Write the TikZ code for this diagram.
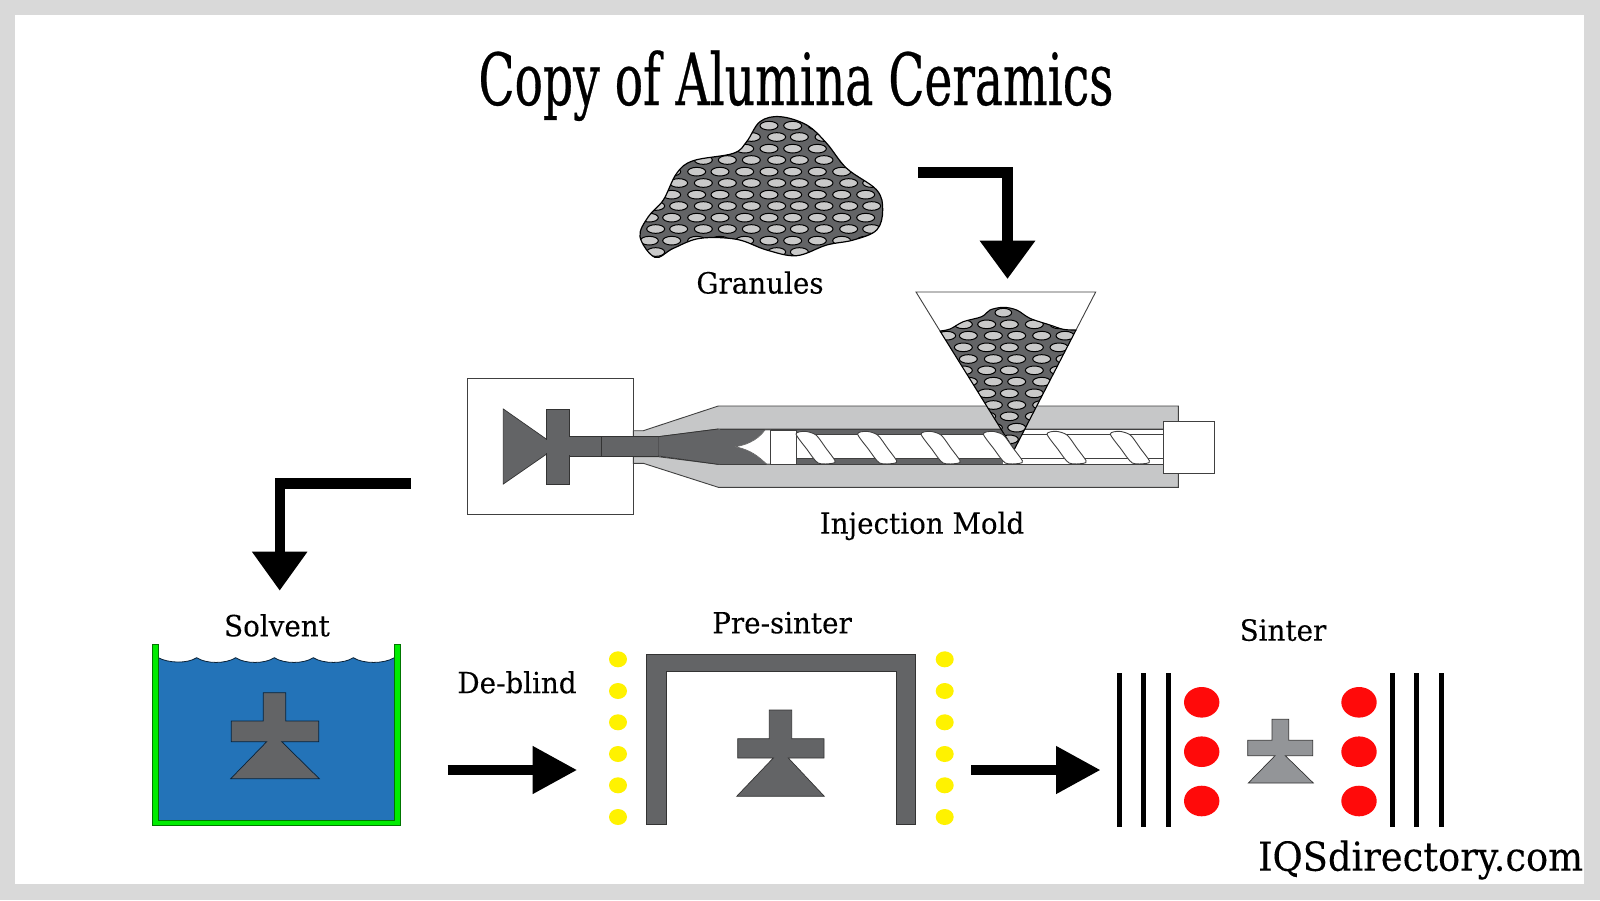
\documentclass[tikz,border=0pt]{standalone}
\usepackage{fontspec}
\setmainfont{DejaVu Serif}
\newfontfamily\titlefont[FakeStretch=0.655,FakeBold=0.4]{DejaVu Serif}
\newfontfamily\labelfont[FakeStretch=0.95,FakeBold=0.15]{DejaVu Serif}
\newfontfamily\brandfont[FakeStretch=0.92,FakeBold=0.15]{DejaVu Serif}
\usetikzlibrary{arrows.meta}
\definecolor{framegray}{HTML}{D9D9D9}
\definecolor{dark}{HTML}{636466}
\definecolor{barrel}{HTML}{C6C7C8}
\definecolor{pale}{HTML}{C9C9C9}
\definecolor{sintered}{HTML}{939598}
\definecolor{water}{HTML}{2373B8}
\definecolor{tub}{HTML}{00EC00}
\definecolor{heat}{HTML}{FFF200}
\definecolor{hot}{HTML}{FF0A0A}
\tikzset{
  zoomed/.style={x=0.166667pt,y=-0.166667pt},
  pore/.style={fill=pale,draw=black,line width=0.5pt},
  thinline/.style={draw=black!75,line width=0.45pt},
  partshape/.style={draw=black!80,line width=0.35pt,line join=miter},
  flow2/.style={draw=black,line width=5.2pt,line join=miter},
  lbl/.style={font=\labelfont\fontsize{14.6}{16}\selectfont,anchor=base,inner sep=0pt,text=black},
  flight/.style={fill=white,draw=black!75,line width=0.45pt},
  dot/.style={fill=heat},
  bar/.style={fill=black},
}
\begin{document}
\begin{tikzpicture}[x=0.5pt,y=-0.5pt]
\useasboundingbox (0,0) rectangle (1600,900);
\fill[framegray] (0,0) rectangle (1600,900);
\fill[white] (15,15) rectangle (1584,884);

% Title and labels
\node[anchor=base,inner sep=0pt,font=\titlefont\fontsize{36}{40}\selectfont] (title) at (796,105) {Copy of Alumina Ceramics};
\node[lbl] (granules) at (760,293.5) {Granules};
\node[lbl] (injection) at (922,533.7) {Injection Mold};
\node[lbl] (solvent) at (277,636.3) {Solvent};
\node[lbl] (deblind) at (517,693.2) {De-blind};
\node[lbl] (presinter) at (782,633.3) {Pre-sinter};
\node[lbl] (sinter) at (1283,640.7) {Sinter};
\node[anchor=base,inner sep=0pt,font=\brandfont\fontsize{20}{22}\selectfont] (brand) at (1420.5,870.7) {IQSdirectory.com};

% Granule blob
\begin{scope}[shift={(620,100)},zoomed]
  \def\blob{plot[smooth cycle,tension=0.6] coordinates {(105,472) (60,410) (85,350) (130,300) (170,220) (220,182) (340,160) (380,125) (420,65) (480,50) (560,75) (620,130) (680,205) (770,270) (788,330) (770,390) (700,420) (620,435) (530,467) (440,450) (350,418) (240,415) (160,445)}}
  \fill[dark] \blob;
  \begin{scope}
    \clip \blob;
    \foreach \r in {77,146,215,284,353,422}
      \foreach \c in {88,155,230,300,374,447,518,592,665,737}
        \draw[pore] (\c,\r) ellipse (27 and 13);
    \foreach \r in {111,180,249,318,387,456}
      \foreach \c in {107,176,250,322,394,470,538,612,686,755}
        \draw[pore] (\c,\r) ellipse (27 and 13);
  \end{scope}
  \draw[black,line width=0.6pt] \blob;
\end{scope}

% Mold box and barrel
\draw[thinline,fill=white] (467.3,378.3) rectangle (633.3,514.3);
\draw[thinline,fill=barrel] (633.3,430.7) -- (643.3,430.7) -- (718.3,406) -- (1178.3,406) -- (1178.3,429) -- (718.3,429) -- (658.3,436.7) -- (633.3,436.7) -- cycle;
\draw[thinline,fill=barrel] (633.3,456.7) -- (658.3,456.7) -- (718.3,464.3) -- (1178.3,464.3) -- (1178.3,487.3) -- (718.3,487.3) -- (643.3,463.3) -- (633.3,463.3) -- cycle;
\draw[thinline,fill=white] (718.3,429) rectangle (1165,464.3);
\fill[dark] (718.3,429) rectangle (1003,464.3);
\draw[thinline] (718.3,429) -- (1003,429) (718.3,464.3) -- (1003,464.3);

% Moulded part, runner, nozzle (zoom coordinates)
\begin{scope}[shift={(450,280)},zoomed]
  \draw[partshape,fill=dark] (160,387) -- (290,478) -- (290,522) -- (160,612) -- cycle;
  \draw[partshape,fill=dark] (288,387) rectangle (358,612);
  \draw[partshape,fill=dark] (358,470) rectangle (625,528);
  \fill[dark] (280,480) rectangle (298,520);
  \fill[dark] (350,472) rectangle (366,526);
  \draw[partshape] (455,470) -- (455,528);
  \fill[dark] (625,470) -- (805,447) -- (810,447) -- (810,553) -- (805,553) -- (625,528) -- cycle;
  \draw[partshape] (625,528) -- (805,553) (625,470) -- (805,447);
  \draw[fill=white,draw=black!60,line width=0.3pt] (962,450) -- (945,450) .. controls (920,485) and (880,497) .. (855,500) .. controls (905,510) and (925,530) .. (950,552) -- (962,552) -- cycle;
  \draw[thinline,fill=white] (962,450) rectangle (1040,552);
\end{scope}
% Screw shaft
\draw[thinline,fill=white] (796.7,434.3) rectangle (1165,458.3);

% Hopper with granules (zoom coordinates)
\begin{scope}[shift={(850,280)},zoomed]
  \def\heap{plot[smooth,tension=0.55] coordinates {(270,153) (300,147) (340,125) (395,110) (420,90) (460,82) (500,90) (540,115) (600,135) (640,148) (678,150)} -- (492,510) -- cycle}
  \fill[dark] \heap;
  \begin{scope}
    \clip \heap;
    \draw[pore] (460,98) ellipse (25 and 13);
    \foreach \r in {133,202,271,340,409,478}
      \foreach \c in {340,410,478,553,627}
        \draw[pore] (\c,\r) ellipse (27 and 13);
    \foreach \r in {167,237,305,375,443}
      \foreach \c in {290,355,430,500,575,645}
        \draw[pore] (\c,\r) ellipse (27 and 13);
  \end{scope}
  \draw[black,line width=0.55pt] \heap;
  \draw[thinline] (270,153) -- (198,36) -- (737,36) -- (678,150);
\end{scope}

% Screw flights
\foreach \s in {796.7,858.3,921.7,984,1047.7,1111} {
  \begin{scope}[shift={(\s,280)},zoomed]
    \draw[flight] plot[smooth cycle,tension=0.45] coordinates {(-2,462) (25,454) (58,465) (88,505) (115,542) (107,550) (64,549) (30,507)};
  \end{scope}
}

% End cap
\draw[thinline,fill=white] (1163.3,421) rectangle (1214.3,473.3);

% Flow arrows
\coordinate (a1s) at (918.3,172.5);
\coordinate (a1e) at (1007.5,279);
\draw[flow2,-{Triangle[length=19.2pt,width=26.6pt]}] (a1s) -| (a1e);
\coordinate (a2s) at (410.7,483.3);
\coordinate (a2e) at (279.7,590.7);
\draw[flow2,-{Triangle[length=19.5pt,width=26.4pt]}] (a2s) -| (a2e);
\coordinate (a3s) at (447.7,770);
\coordinate (a3e) at (577.3,770);
\draw[flow2,-{Triangle[length=22.3pt,width=22.5pt]}] (a3s) -- (a3e);
\coordinate (a4s) at (971,770);
\coordinate (a4e) at (1100.7,770);
\draw[flow2,-{Triangle[length=22.3pt,width=22.5pt]}] (a4s) -- (a4e);

% Solvent tub
\fill[water] (158.3,657.7) .. controls (168,663) and (187,664) .. (196.7,657.7)
  .. controls (206,664) and (226,664) .. (235.7,657.7)
  .. controls (245,664) and (265,664) .. (274.3,657.7)
  .. controls (284,664) and (304,664) .. (313.3,657.7)
  .. controls (323,664) and (344,664) .. (353.3,657.7)
  .. controls (363,664) and (384,664) .. (394.3,657.7)
  -- (394.3,820) -- (158.3,820) -- cycle;
\draw[black!70!water,line width=0.4pt] (158.3,657.7) .. controls (168,663) and (187,664) .. (196.7,657.7)
  .. controls (206,664) and (226,664) .. (235.7,657.7)
  .. controls (245,664) and (265,664) .. (274.3,657.7)
  .. controls (284,664) and (304,664) .. (313.3,657.7)
  .. controls (323,664) and (344,664) .. (353.3,657.7)
  .. controls (363,664) and (384,664) .. (394.3,657.7);
\draw[fill=tub,draw=black!50!tub,line width=0.25pt] (152.3,644.3) -- (158.3,644.3) -- (158.3,820) -- (394.3,820) -- (394.3,644.3) -- (400.7,644.3) -- (400.7,825.7) -- (152.3,825.7) -- cycle;
\draw[partshape,fill=dark,draw=black!70!water] (263.3,692.7) -- (285.7,692.7) -- (285.7,721) -- (318.7,721) -- (318.7,741.7) -- (281.7,741.7) -- (319.3,778.7) -- (230.7,778.7) -- (266.7,741.7) -- (231.3,741.7) -- (231.3,721) -- (263.3,721) -- cycle;

% Pre-sinter arch and part
\draw[partshape,fill=dark] (646.7,824.3) -- (646.7,654.3) -- (915.7,654.3) -- (915.7,824.3) -- (896,824.3) -- (896,671.7) -- (666.7,671.7) -- (666.7,824.3) -- cycle;
\draw[partshape,fill=dark] (769.3,710) -- (791.7,710) -- (791.7,738.7) -- (824,738.7) -- (824,758) -- (788.3,758) -- (824.3,796.3) -- (736.7,796.3) -- (773.3,758) -- (737.7,758) -- (737.7,738.7) -- (769.3,738.7) -- cycle;
\foreach \y in {659.3,691,722.3,754,785.3,817} {
  \fill[dot] (618,\y) ellipse (9 and 8);
  \fill[dot] (944.7,\y) ellipse (9 and 8);
}

% Sinter
\foreach \x in {1119.3,1143.3,1168.3,1392.7,1416.7,1441.7} {
  \fill[bar] (\x-2.5,673.3) rectangle (\x+2.5,827.3);
}
\foreach \y in {702.3,751.7,801} {
  \fill[hot] (1201.7,\y) ellipse (17.7 and 15.3);
  \fill[hot] (1359,\y) ellipse (17.7 and 15.3);
}
\draw[partshape,fill=sintered] (1272,719.3) -- (1288.7,719.3) -- (1288.7,740.3) -- (1312.7,740.3) -- (1312.7,755.7) -- (1285.3,755.7) -- (1313.3,783) -- (1248.3,783) -- (1275,755.7) -- (1247.7,755.7) -- (1247.7,740.3) -- (1272,740.3) -- cycle;
\end{tikzpicture}
\end{document}
